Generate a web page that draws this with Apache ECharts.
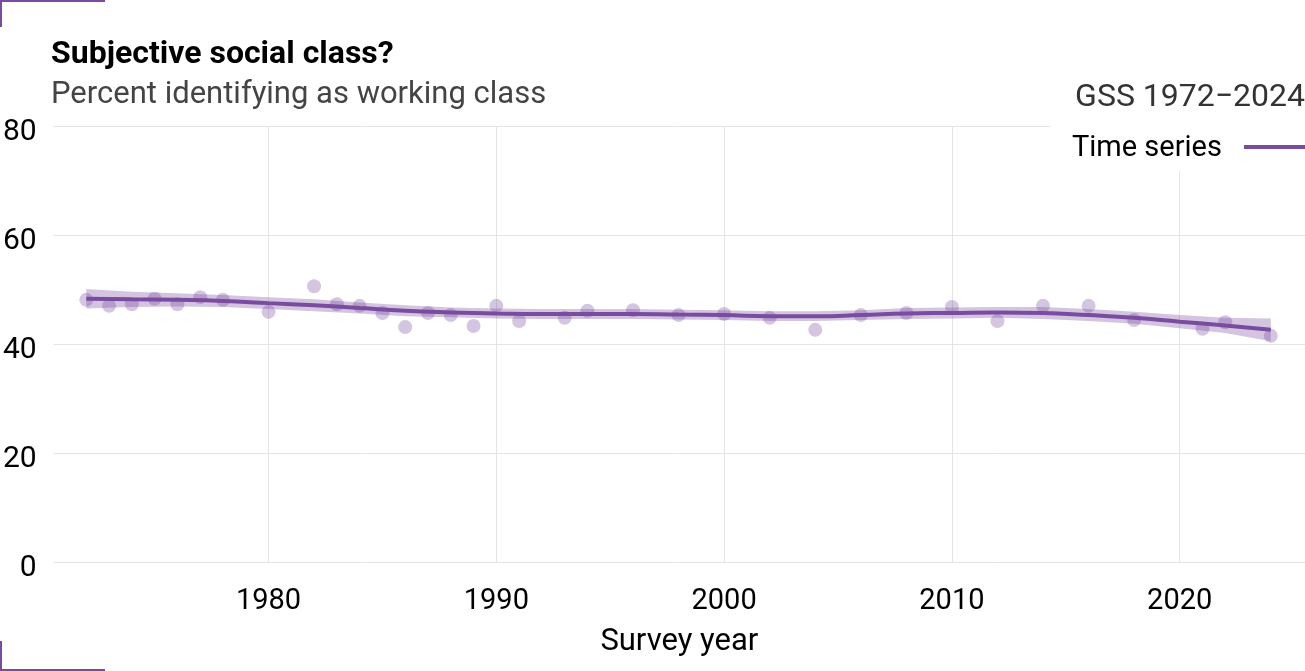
<!DOCTYPE html>
<html>
<head>
<meta charset="utf-8">
<script src="https://cdn.jsdelivr.net/npm/echarts@6/dist/echarts.min.js"></script>
<style>
  html, body { margin: 0; padding: 0; background: #fff; }
  #chart { width: 1305px; height: 671px; }
</style>
</head>
<body>
<div id="chart"></div>
<script>
// survey points
var years = [1972, 1973, 1974, 1975, 1976, 1977, 1978, 1980, 1982, 1983, 1984, 1985, 1986, 1987, 1988, 1989,
  1990, 1991, 1993, 1994, 1996, 1998, 2000, 2002, 2004, 2006, 2008, 2010, 2012, 2014, 2016, 2018, 2021, 2022, 2024];
var pctWorking = [48.1, 47.0, 47.3, 48.3, 47.3, 48.6, 48.1, 45.9, 50.6, 47.3, 47.0, 45.7, 43.1, 45.7, 45.3, 43.3,
  47.0, 44.2, 44.8, 46.1, 46.2, 45.3, 45.5, 44.8, 42.6, 45.3, 45.7, 46.8, 44.2, 47.0, 47.0, 44.4, 42.8, 44.0, 41.5];

// smoothed trend and its band
var fitYears = [1972, 1974, 1976, 1978, 1980, 1982, 1984, 1986, 1988, 1990, 1992, 1994, 1996, 1998,
  2000, 2002, 2004, 2006, 2008, 2010, 2012, 2014, 2016, 2018, 2020, 2022, 2024];
var fitValues = [48.3, 48.2, 48.1, 47.9, 47.5, 47.1, 46.6, 46.1, 45.8, 45.6, 45.5, 45.5, 45.5, 45.4,
  45.3, 45.1, 45.1, 45.3, 45.6, 45.7, 45.8, 45.7, 45.3, 44.8, 44.1, 43.4, 42.6];
var fitLower = [46.5, 46.8, 46.9, 46.8, 46.4, 46.0, 45.6, 45.1, 44.9, 44.7, 44.6, 44.6, 44.6, 44.5,
  44.4, 44.2, 44.2, 44.4, 44.6, 44.7, 44.8, 44.6, 44.2, 43.7, 42.9, 42.0, 40.5];
var fitUpper = [50.1, 49.6, 49.3, 49.0, 48.6, 48.2, 47.6, 47.1, 46.7, 46.5, 46.4, 46.4, 46.4, 46.3,
  46.2, 46.0, 46.0, 46.2, 46.6, 46.7, 46.8, 46.8, 46.4, 45.9, 45.3, 44.8, 44.7];

var xTicks = [1980, 1990, 2000, 2010, 2020];

var purple = '#7a4ca0';

var chart = echarts.init(document.getElementById('chart'), null, { renderer: 'canvas' });

chart.setOption({
  animation: false,
  textStyle: { fontFamily: 'Roboto' },
  title: {
    text: 'Subjective social class?',
    subtext: 'Percent identifying as working class',
    left: 46,
    top: 34,
    itemGap: 9,
    textStyle: { fontFamily: 'Roboto', fontWeight: 'bold', fontSize: 32, color: '#000' },
    subtextStyle: { fontFamily: 'Roboto', fontSize: 31, color: '#444' }
  },
  grid: { left: 52, right: 0, top: 126, bottom: 109 },
  xAxis: {
    type: 'value',
    min: 1970.57,
    max: 2025.5,
    name: 'Survey year',
    nameLocation: 'middle',
    nameGap: 65,
    nameTextStyle: { fontFamily: 'Roboto', fontSize: 31, color: '#000' },
    axisLine: { show: false },
    axisTick: { show: false, customValues: xTicks },
    axisLabel: {
      customValues: xTicks, fontSize: 29, color: '#000', margin: 25,
      formatter: function (v) { return String(v); }
    },
    splitLine: { show: true, lineStyle: { color: '#e4e4e4', width: 1 } }
  },
  yAxis: {
    type: 'value',
    min: 0,
    max: 80,
    interval: 20,
    axisLine: { show: false },
    axisTick: { show: false },
    axisLabel: { fontSize: 30, color: '#000', margin: 17, verticalAlign: 'top', lineHeight: 12 },
    splitLine: { show: true, lineStyle: { color: '#e4e4e4', width: 1 } }
  },
  series: [
    {
      name: 'Band',
      type: 'custom',
      silent: true,
      data: fitYears.map(function (y, i) { return [y, fitLower[i], fitUpper[i]]; }),
      renderItem: function (params, api) {
        if (params.dataIndex !== 0) return null;
        var top = [], bottom = [];
        for (var i = 0; i < fitYears.length; i++) {
          top.push(api.coord([fitYears[i], fitUpper[i]]));
          bottom.unshift(api.coord([fitYears[i], fitLower[i]]));
        }
        return {
          type: 'polygon',
          shape: { points: top.concat(bottom) },
          style: { fill: 'rgba(122,76,160,0.33)' }
        };
      },
      z: 2
    },
    {
      name: 'Points',
      type: 'scatter',
      data: years.map(function (y, i) { return [y, pctWorking[i]]; }),
      symbolSize: 14,
      itemStyle: { color: 'rgba(122,76,160,0.4)' },
      z: 3
    },
    {
      name: 'Time series',
      type: 'line',
      data: fitYears.map(function (y, i) { return [y, fitValues[i]]; }),
      smooth: true,
      symbol: 'none',
      lineStyle: { color: purple, width: 4 },
      z: 4
    }
  ],
  graphic: [
    // white box behind the legend
    { type: 'rect', left: 1050, top: 108, shape: { width: 255, height: 63 }, style: { fill: '#fff' }, z: 50 },
    { type: 'text', right: 0, top: 82, z: 60,
      style: { text: 'GSS 1972\u22122024', font: '32px Roboto', fill: '#333' } },
    { type: 'text', left: 1072, top: 134, z: 60,
      style: { text: 'Time series', font: '29px Roboto', fill: '#000' } },
    { type: 'line', z: 60, shape: { x1: 1244, y1: 147, x2: 1305, y2: 147 },
      style: { stroke: purple, lineWidth: 4 } },
    // corner marks
    { type: 'polyline', z: 60, shape: { points: [[1, 27], [1, 1], [105, 1]] },
      style: { stroke: purple, lineWidth: 2, fill: null } },
    { type: 'polyline', z: 60, shape: { points: [[1, 641], [1, 670], [105, 670]] },
      style: { stroke: purple, lineWidth: 2, fill: null } }
  ]
});
</script>
</body>
</html>
